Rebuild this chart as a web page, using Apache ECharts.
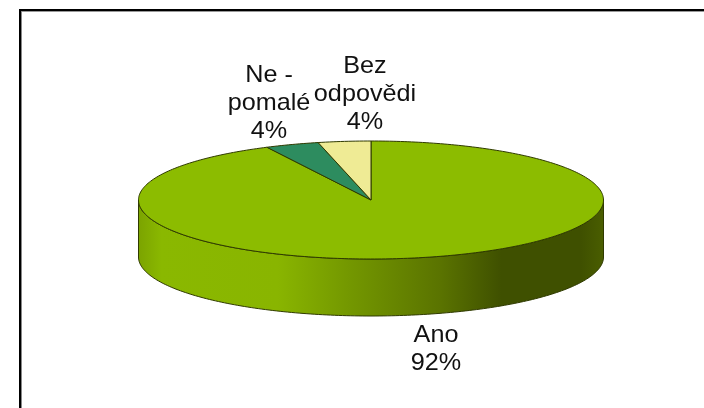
<!DOCTYPE html>
<html>
<head>
<meta charset="utf-8">
<style>html,body{margin:0;padding:0;background:#fff}#c{width:704px;height:408px}</style>
<script src="https://cdn.jsdelivr.net/npm/echarts@6/dist/echarts.min.js"></script>
</head>
<body>
<div id="c"></div>
<script>
const categories = ['Ano', 'Ne -\npomalé', 'Bez\nodpovědi'];
const shares = [92, 4, 4];
const colors = ['#8CBC00', '#2D8C5F', '#EFEB95'];
const labelCenters = [[436, 349], [269, 103], [365, 94]];

const CX = 371, CY = 200, RX = 232.5, RY = 59, DEPTH = 57;
const total = shares.reduce((a, b) => a + b, 0);
const rad = d => d * Math.PI / 180;
// Tilted view compresses angles near the far edge of the disc.
const view = d => d - 2.6 * Math.sin(rad(2 * d));
const pt = (d, dy) => {
  const a = rad(view(d));
  return [CX + RX * Math.sin(a), CY + (dy || 0) - RY * Math.cos(a)];
};
const raw = (d, dy) => [CX + RX * Math.sin(rad(d)), CY + (dy || 0) - RY * Math.cos(rad(d))];

const sideFill = new echarts.graphic.LinearGradient(0, 0, 1, 0, [
  { offset: 0, color: '#7BA300' }, { offset: 0.05, color: '#8AB800' },
  { offset: 0.3, color: '#89B500' }, { offset: 0.45, color: '#749800' },
  { offset: 0.65, color: '#5A7300' }, { offset: 0.78, color: '#3F5000' },
  { offset: 0.95, color: '#3F5000' }, { offset: 1, color: '#4A5E00' }
]);

function renderItem(params, api) {
  const i = params.dataIndex;
  let before = 0;
  for (let k = 0; k < i; k++) before += shares[k];
  const v = api.value(0);
  const start = before / total * 360, end = (before + v) / total * 360;
  const children = [];
  const edge = '#2F3A00';
  if (i === 0) {
    const side = [];
    for (let d = 90; d <= 270; d += 1) side.push(raw(d));
    for (let d = 270; d >= 90; d -= 1) side.push(raw(d, DEPTH));
    children.push({ type: 'polygon', shape: { points: side },
      style: { fill: sideFill, stroke: edge, lineWidth: 1 } });
  }
  const face = [[CX, CY]];
  const steps = Math.max(4, Math.round(end - start));
  for (let s = 0; s <= steps; s++) {
    face.push(pt(start + (end - start) * s / steps));
  }
  children.push({ type: 'polygon', shape: { points: face },
    style: { fill: colors[i], stroke: edge, lineWidth: 1, lineJoin: 'round' } });
  children.push({ type: 'text',
    x: labelCenters[i][0], y: labelCenters[i][1], scaleX: 1.05,
    style: {
      text: categories[i] + '\n' + v + '%',
      x: 0, y: 0,
      align: 'center', verticalAlign: 'middle',
      font: '24px "Liberation Sans", Arial, sans-serif',
      lineHeight: 28, fill: '#111' } });
  return { type: 'group', children };
}

const chart = echarts.init(document.getElementById('c'), null, { renderer: 'canvas' });
chart.setOption({
  animation: false,
  backgroundColor: '#fff',
  graphic: [
    { type: 'rect', shape: { x: 19, y: 9, width: 685, height: 2 }, style: { fill: '#000' } },
    { type: 'rect', shape: { x: 21, y: 11, width: 683, height: 1 }, style: { fill: '#999' } },
    { type: 'rect', shape: { x: 19, y: 9, width: 2, height: 399 }, style: { fill: '#000' } },
    { type: 'rect', shape: { x: 21, y: 11, width: 1, height: 397 }, style: { fill: '#888' } }
  ],
  series: [{
    type: 'custom',
    coordinateSystem: 'none',
    renderItem,
    data: shares.map(v => [v]),
    z: 2
  }]
});
</script>
</body>
</html>
